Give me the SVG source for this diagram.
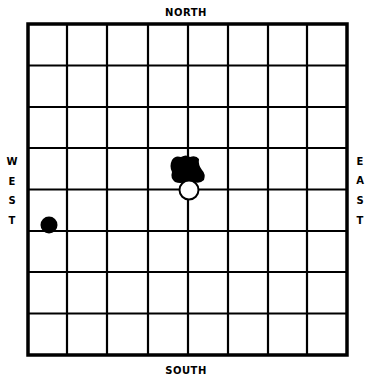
<svg xmlns="http://www.w3.org/2000/svg" width="365" height="382" viewBox="0 0 365 382">
<style>
.lbl{font-family:"DejaVu Sans","Liberation Sans",sans-serif;font-weight:bold;font-size:10px;fill:#000;text-anchor:middle}
.g{stroke:#000;stroke-width:2.2;fill:none}
</style>
<rect width="365" height="382" fill="#fff"/>
<g id="grid">
<path class="g" d="M67,24V355M107,24V355M148,24V355M188,24V355M228,24V355M268,24V355M307,24V355"/>
<path class="g" d="M28,65.5H347M28,107H347M28,148H347M28,189.5H347M28,231H347M28,272H347M28,313.5H347"/>
<rect x="28" y="24" width="319" height="331" fill="none" stroke="#000" stroke-width="3.5"/>
</g>
<g id="labels">
<text class="lbl" x="186" y="16" letter-spacing="0.5">NORTH</text>
<text class="lbl" x="186" y="374" letter-spacing="0.5">SOUTH</text>
<text class="lbl" x="12" y="165">W</text>
<text class="lbl" x="12" y="185">E</text>
<text class="lbl" x="12" y="204">S</text>
<text class="lbl" x="12" y="224">T</text>
<text class="lbl" x="360" y="165">E</text>
<text class="lbl" x="360" y="184">A</text>
<text class="lbl" x="360" y="204">S</text>
<text class="lbl" x="360" y="224">T</text>
</g>
<g id="blob">
<path d="M172,160 Q175,155 181,157 Q186,154 190,157 Q196,155 199,159 Q198,165 202,170 Q206,174 204,180 Q200,184 194,182 Q190,185 186,182 Q180,184 175,182 Q170,178 172,172 Q169,166 172,160 Z" fill="#000"/>
</g>
<g id="circle">
<circle cx="189" cy="190" r="9.5" fill="#fff" stroke="#000" stroke-width="2"/>
</g>
<g id="westdot">
<circle cx="49" cy="225" r="8.5" fill="#000"/>
</g>
</svg>
